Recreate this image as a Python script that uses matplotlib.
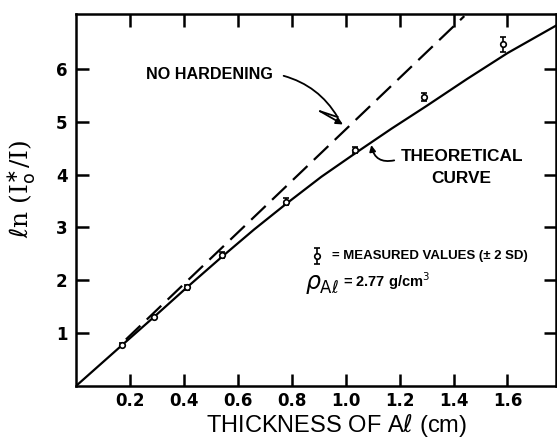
import numpy as np
import matplotlib.pyplot as plt
from matplotlib.patches import FancyArrowPatch

# measured points (thickness cm, ln(I0*/I), half-width of +-2SD bar)
thick = [0.17, 0.29, 0.41, 0.54, 0.78, 1.035, 1.29, 1.585]
meas = [0.77, 1.31, 1.87, 2.48, 3.49, 4.46, 5.47, 6.47]
err = [0.04, 0.04, 0.05, 0.05, 0.06, 0.06, 0.08, 0.14]

# theoretical curve
curve_x = [0.0, 0.17, 0.29, 0.41, 0.54, 0.66, 0.78, 0.91, 1.04, 1.17, 1.3, 1.45, 1.6, 1.78]
curve_y = [0.0, 0.77, 1.31, 1.86, 2.44, 2.96, 3.45, 3.96, 4.42, 4.87, 5.3, 5.81, 6.3, 6.82]

# "no hardening" straight line (end points)
nh_x = [0.185, 1.44]
nh_y = [0.88, 7.0]

xticks = [0.2, 0.4, 0.6, 0.8, 1.0, 1.2, 1.4, 1.6]
xlabels = ["0.2", "0.4", "0.6", "0.8", "1.0", "1.2", "1.4", "1.6"]
yticks = [1, 2, 3, 4, 5, 6]

plt.rcParams['font.family'] = ['DejaVu Sans']
LS = 'Liberation Sans'

fig = plt.figure(figsize=(5.57, 4.38), dpi=100)
ax = fig.add_axes([76 / 557, 52 / 438, 480 / 557, 372 / 438])

ax.plot(curve_x, curve_y, color='black', lw=1.6, zorder=2)
ax.plot(nh_x, nh_y, color='black', lw=1.6, dashes=(9, 4), zorder=2)
ax.errorbar(thick, meas, yerr=err, fmt='o', ms=4, mfc='white', mec='black',
            mew=1.2, ecolor='black', elinewidth=1.2, capsize=2.5, capthick=1.2,
            zorder=3)

ax.set_xlim(0, 1.78)
ax.set_ylim(0, 7.04)
ax.set_xticks(xticks)
ax.set_xticklabels(xlabels)
ax.set_yticks(yticks)
for s in ax.spines.values():
    s.set_linewidth(1.8)
ax.tick_params(direction='in', length=9, width=1.8, top=True, right=True,
               labelsize=12, pad=6)
ax.tick_params(axis='x', pad=4)
for lab in ax.get_xticklabels() + ax.get_yticklabels():
    lab.set_fontweight('bold')

fig.text(337 / 557, 6 / 438, r"THICKNESS OF A$\ell$ (cm)", fontsize=17,
         family=LS, ha='center', va='baseline')
ax.set_ylabel(r"$\ell$n (I$_{\mathrm{o}}^{\ast}$/I)", fontsize=18,
              family='DejaVu Serif', labelpad=6)
ax.yaxis.set_label_coords(-0.082, 0.53)

# NO HARDENING label with zig-zag arrow
ax.text(0.493, 5.89, "NO HARDENING", fontsize=11.6, fontweight='bold',
        family=LS, ha='center', va='center')
ax.add_patch(FancyArrowPatch((0.77, 5.87), (0.97, 5.09), arrowstyle='-',
                             connectionstyle='arc3,rad=-0.2', lw=1.3,
                             color='black', shrinkA=0, shrinkB=0))
ax.plot([0.97, 0.905], [5.09, 5.2], color='black', lw=1.3)
ax.annotate("", xy=(0.99, 4.95), xytext=(0.905, 5.2),
            arrowprops=dict(arrowstyle='-|>', lw=1.3, color='black',
                            mutation_scale=10, shrinkA=0, shrinkB=0))

# THEORETICAL CURVE label
ax.text(1.43, 4.34, "THEORETICAL", fontsize=12.4, fontweight='bold',
        family=LS, ha='center', va='center')
ax.text(1.43, 3.92, "CURVE", fontsize=12.4, fontweight='bold',
        family=LS, ha='center', va='center')
ax.annotate("", xy=(1.095, 4.56), xytext=(1.18, 4.27),
            arrowprops=dict(arrowstyle='-|>', lw=1.3, color='black',
                            mutation_scale=9, shrinkA=0, shrinkB=0,
                            connectionstyle='arc3,rad=-0.5'))

# key
ax.errorbar([0.893], [2.46], yerr=[0.15], fmt='o', ms=4, mfc='white',
            mec='black', mew=1.2, ecolor='black', elinewidth=1.2,
            capsize=2.5, capthick=1.2)
ax.text(0.95, 2.46, u"= MEASURED VALUES (\u00b1 2 SD)", fontsize=9.5,
        fontweight='bold', family=LS, ha='left', va='center')
ax.text(0.85, 1.93, r"$\rho_{\mathrm{A}\ell}$", fontsize=17, ha='left',
        va='center')
ax.text(0.99, 1.98, r"= 2.77 g/cm$^3$", fontsize=10.5, fontweight='bold',
        family=LS, ha='left', va='center')

plt.savefig("out.png", dpi=100)
